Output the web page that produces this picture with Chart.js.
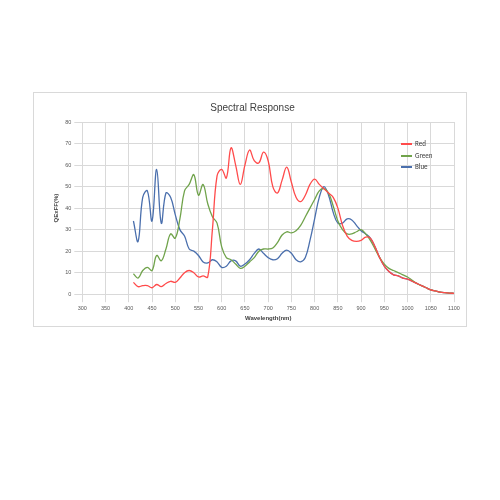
<!DOCTYPE html>
<html><head><meta charset="utf-8">
<script src="https://cdn.jsdelivr.net/npm/chart.js@4/dist/chart.umd.min.js"></script>
<style>
body{margin:0;background:#fff;font-family:Calibri,"Liberation Sans",Arial,sans-serif}
#box{position:absolute;left:33px;top:92px;width:432px;height:233px;border:1px solid #d9d9d9;background:#fff}
#legend{position:absolute;left:367px;top:45px;font-size:7px;color:#404040;line-height:11.5px}
#legend span{display:inline-block;width:11px;height:2px;vertical-align:middle;margin-right:3px}
</style></head><body>
<div id="box"><canvas id="c" width="432" height="233"></canvas>
<div id="legend"><div><span style="background:#ff4b4b"></span>Red</div><div><span style="background:#70a34b"></span>Green</div><div><span style="background:#4a6fad"></span>Blue</div></div></div>
<script>
const wavelengths=[];for(let w=410;w<=1100;w+=10)wavelengths.push(w);
const red=[5.5,3.5,4,4,3,4.5,3.5,5,6,5.5,7.5,10,11,10,8,8.5,8,30,55,58,54,68,60,51,60,67,62,61,66,62,50,47,53,59,52,45,43,46,51,53.5,51,49,47,45,40,32,27,25,24.5,25,26.5,26,22,17,13,10.5,9,8.5,7.5,7,6,5,4,3,2,1.5,1,0.7,0.5,0.4];
const green=[9.5,7.5,11,12.5,11,18,15.5,21,28,26,35,48,51,55.5,46,51,42,36,33,22,17,16,14,12,13,15,17,20,21,21,21.5,24,27.5,29,28.5,29.5,32,36,40,44,48,49,47,41,34,30,28,28,29,30,28,25,21,17,14,12,11,10,9,8,6.5,5,4,3,2,1.5,1,0.7,0.5,0.4];
const blue=[34,24.5,45,48,34,58,33,47,45,37,30,27,21,20,18,15,14.5,16,15,12.5,13,15.5,15.5,13,14,16,19,21,19,17,16,16.5,19,20.5,19,16,15,17,25,35,45,50,46,38,33,33,35,34.5,32,29.5,28,26,22,17,13,10.5,9,8.5,7.5,7,6,5,4,3,2,1.5,1,0.7,0.5,0.4];
const mk=(d)=>d.map((v,i)=>({x:wavelengths[i],y:v}));
const ds=(l,d,c)=>({label:l,data:mk(d),borderColor:c,borderWidth:1.3,pointRadius:0,tension:0.4,fill:false});
new Chart(document.getElementById('c'),{type:'line',
data:{datasets:[ds('Red',red,'#ff4b4b'),ds('Green',green,'#70a34b'),ds('Blue',blue,'#4a6fad')]},
options:{responsive:false,animation:false,
layout:{padding:{left:17,right:12,top:7,bottom:4}},
plugins:{legend:{display:false},title:{display:true,text:'Spectral Response',color:'#404040',font:{size:10,weight:'normal',family:'Liberation Sans'},padding:{top:2,bottom:8}}},
scales:{x:{type:'linear',min:300,max:1100,ticks:{stepSize:50,color:'#595959',font:{size:5.5},callback:v=>String(v)},grid:{color:'#d9d9d9'},border:{color:'#d9d9d9'},title:{display:true,text:'Wavelength(nm)',color:'#404040',font:{size:6,weight:'bold'},padding:0}},
y:{min:0,max:80,ticks:{stepSize:10,color:'#595959',font:{size:5.5}},grid:{color:'#d9d9d9'},border:{color:'#d9d9d9'},title:{display:true,text:'QExFF(%)',color:'#404040',font:{size:6,weight:'bold'},padding:2}}}}});
</script></body></html>
